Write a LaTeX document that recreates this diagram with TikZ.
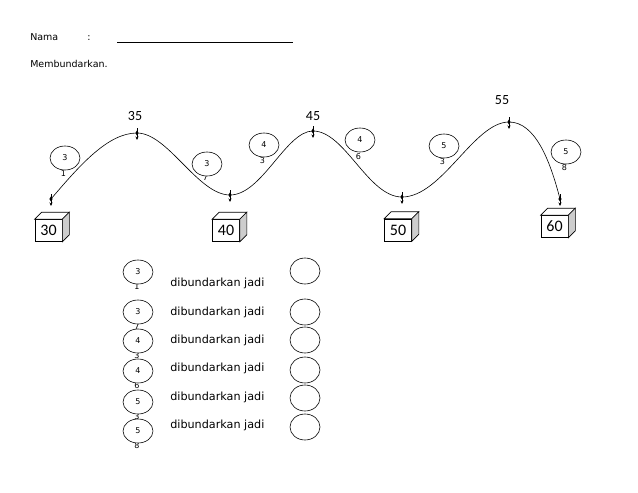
\documentclass[tikz,border=0pt]{standalone}
\usepackage{fontspec}
\setmainfont{DejaVu Sans}
\newfontfamily\numfont{Carlito}
\usetikzlibrary{arrows.meta,calc,positioning,shapes.geometric}
\definecolor{cside}{RGB}{205,205,205}

\begin{document}
\begin{tikzpicture}[x=1pt,y=-1pt,
  >={Stealth[length=3.5pt,width=3pt]},
  every path/.style={line width=0.6pt},
  boxfront/.style={draw,fill=white,minimum width=27pt,minimum height=22pt,inner sep=0pt,font=\numfont\fontsize{16}{16}\selectfont},
  digcirc/.style={draw,fill=white,ellipse,minimum width=30pt,minimum height=24pt,inner sep=0pt,font=\fontsize{8}{9}\selectfont},
  digsub/.style={inner sep=0pt,font=\fontsize{8}{9}\selectfont},
  anscirc/.style={draw,ellipse,minimum width=30pt,minimum height=26pt,inner sep=0pt},
  peaklab/.style={inner sep=0pt,font=\numfont\fontsize{14}{14}\selectfont},
  rowtxt/.style={anchor=base west,inner sep=0pt,font=\fontsize{11.2}{13}\selectfont},
  headtxt/.style={anchor=base west,inner sep=0pt,font=\fontsize{9.5}{11}\selectfont},
]
\useasboundingbox (0,0) rectangle (638,493);

% ============================ header ============================
\node[headtxt] (nama) at (30,40) {Nama};
\node[headtxt] (colon) at (87,40) {:};
\coordinate (lineA) at (117,42);
\coordinate (lineB) at (293,42);
\draw (lineA) -- (lineB);
\node[headtxt] (judul) at (30,67.5) {Membundarkan.};

% ============================ number line boxes ============================
\foreach \v/\x/\y in {30/48.5/230.5, 40/226/230.5, 50/398/230, 60/554.5/226.5}{
  \node[boxfront] (box\v) at (\x,\y) {\v};
  \draw[fill=white] (box\v.north west) -- ++(7,-7) -- ($(box\v.north east)+(7,-7)$) -- (box\v.north east) -- cycle;
  \draw[fill=cside] (box\v.north east) -- ++(7,-7) -- ($(box\v.south east)+(7,-7)$) -- (box\v.south east) -- cycle;
}

% peak labels
\node[peaklab] (lab35) at (135,116.5) {35};
\node[peaklab] (lab45) at (313,116) {45};
\node[peaklab] (lab55) at (502,100.5) {55};

% ============================ digit bubbles on the curve ============================
\foreach \n/\a/\b/\x/\y/\dy in {p31/3/1/65/158/16, p37/3/7/207/164/14, p43/4/3/264/145/16,
    p46/4/6/360/140/16.5, p53/5/3/444/146/15.5, p58/5/8/566/152/16}{
  \node[digsub] (\n b) at (\x-1.5,\y+\dy) {\b};
  \node[digcirc] (\n) at (\x,\y) {\a};
}

% extrema of the curve
\coordinate (c30) at (51,199);
\coordinate (c35) at (137,133);
\coordinate (c40) at (230,195);
\coordinate (c45) at (313,131);
\coordinate (c50) at (402,197);
\coordinate (c55) at (509,122);
\coordinate (c60) at (560,199);

% the wave
\draw (c30) .. controls (80,165) and (108,133) .. (c35)
  .. controls (168,133) and (198,195) .. (c40)
  .. controls (262,195) and (286,131) .. (c45)
  .. controls (345,131) and (368,197) .. (c50)
  .. controls (442,197) and (474,122) .. (c55)
  .. controls (535,122) and (550,160) .. (c60);

% little markers at the turning points
\foreach \c in {c30,c35,c40,c45,c50,c55,c60}{
  \draw[->] ($(\c)+(0,-5)$) -- ($(\c)+(0,7)$);
  \fill ($(\c)+(-1.6,0)$) -- ($(\c)+(0,-2.6)$) -- ($(\c)+(1.6,0)$) -- ($(\c)+(0,2.6)$) -- cycle;
}

% ============================ exercise list ============================
\foreach \n/\b/\y in {q31/1/272, q37/7/312, q43/3/341, q46/6/371, q53/3/402, q58/8/431}{
  \node[digsub] (\n b) at (137,\y+15) {\b};
}
\foreach \n/\a/\y in {q31/3/272, q37/3/312, q43/4/341, q46/4/371, q53/5/402, q58/5/431}{
  \node[digcirc] (\n) at (138,\y) {\a};
}
\foreach \i/\ty/\cy in {1/286.5/271, 2/315/312, 3/343/340, 4/371.5/370, 5/400/398, 6/428/427}{
  \node[rowtxt] (row\i) at (170,\ty) {dibundarkan jadi};
  \node[anscirc] (ans\i) at (305,\cy) {};
}

\end{tikzpicture}
\end{document}
